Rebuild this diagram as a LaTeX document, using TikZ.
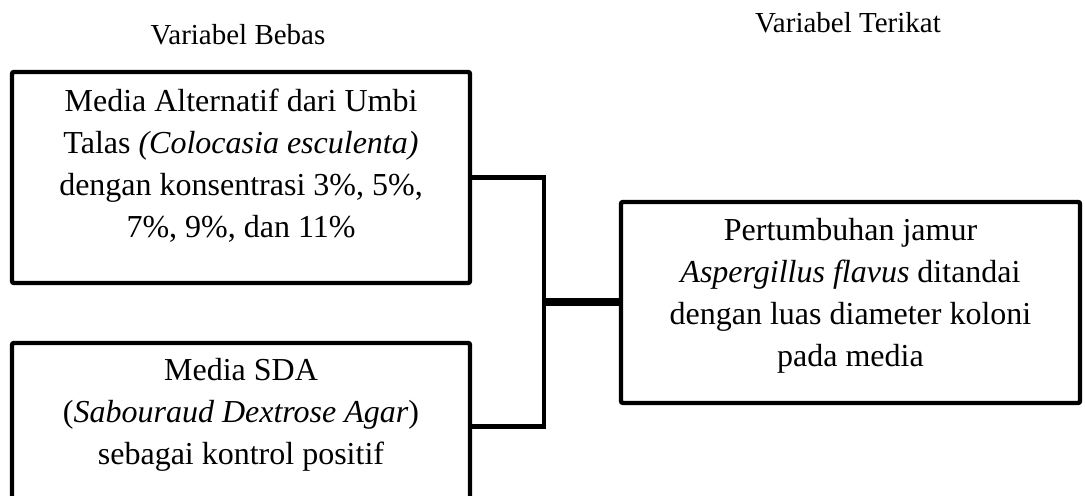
\documentclass[tikz,border=0pt]{standalone}
\usepackage{fontspec}
\setmainfont{Liberation Serif}
\usetikzlibrary{positioning,calc}
\definecolor{ink}{HTML}{000000}
\tikzset{
  every picture/.style={line width=2.2pt,draw=ink},
  bx/.style={draw=ink,fill=white,line width=2.2pt,rounded corners=1pt,inner sep=0pt},
  txt/.style={align=center,font=\fontsize{16}{21}\selectfont,inner sep=0pt},
  lab/.style={font=\fontsize{14.5}{17}\selectfont,inner sep=0pt},
  con/.style={draw=ink,line width=2.2pt},
  conb/.style={con,line width=4pt},
}
\begin{document}
\begin{tikzpicture}[x=0.5pt,y=0.5pt]
  \useasboundingbox (0,0) rectangle (1085,496);
  \node[lab] (bebas) at (238,461) {Variabel Bebas};
  \node[lab] (terikat) at (848,473) {Variabel Terikat};
  % variabel bebas
  \node[bx,minimum width=229pt,minimum height=105.5pt] (talas) at (241,318.5) {};
  \node[txt] (talastxt) at (241,330) {Media Alternatif dari Umbi\\Talas \textit{(Colocasia esculenta)}\\dengan konsentrasi 3\%, 5\%,\\7\%, 9\%, dan 11\%};
  \node[bx,minimum width=229pt,minimum height=83.5pt] (sda) at (241,69.5) {};
  \node[txt] (sdatxt) at (241,81) {Media SDA\\(\textit{Sabouraud Dextrose Agar})\\sebagai kontrol positif};
  % variabel terikat
  \node[bx,minimum width=229.5pt,minimum height=100.5pt] (jamur) at (850.5,193.5) {};
  \node[txt] (jamurtxt) at (850.5,200) {Pertumbuhan jamur\\\textit{Aspergillus flavus} ditandai\\dengan luas diameter koloni\\pada media};
  \coordinate (hub) at (544,193.5);
  \draw[con] (talas.east) -| (hub);
  \draw[con] (sda.east) -| (hub);
  \draw[conb] (hub) -- (jamur.west);
\end{tikzpicture}
\end{document}
